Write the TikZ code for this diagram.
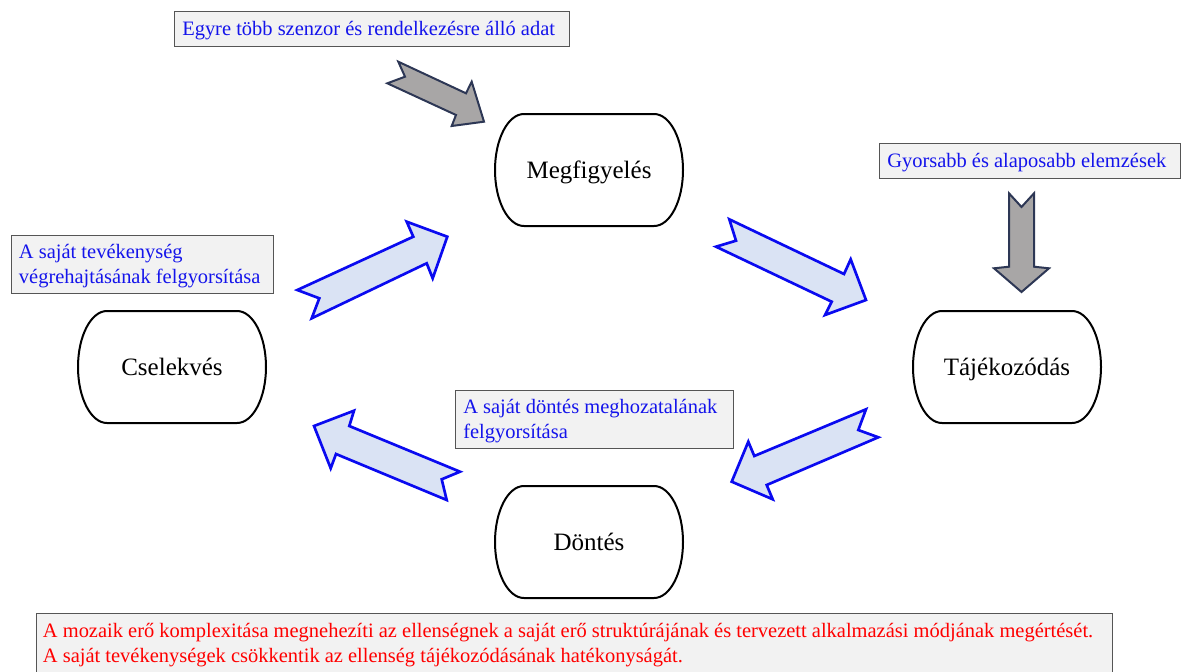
\documentclass[tikz,border=0pt]{standalone}
\usepackage{fontspec}
\setmainfont{Liberation Serif}
\definecolor{boxfill}{RGB}{242,242,242}
\definecolor{boxline}{RGB}{85,85,85}
\definecolor{notetext}{RGB}{20,20,235}
\definecolor{alerttext}{RGB}{255,0,0}
\definecolor{flowfill}{RGB}{218,227,244}
\definecolor{flowline}{RGB}{10,10,240}
\definecolor{inputfill}{RGB}{168,166,166}
\definecolor{inputline}{RGB}{45,55,85}
% stadium outline around a centre point (x, y): straight top/bottom, elliptic sides
\newcommand\stadiumat[2]{%
  (#1-65,#2-56) -- (#1+65,#2-56)
  arc[start angle=-90,end angle=90,x radius=29,y radius=56]
  -- (#1-65,#2+56)
  arc[start angle=90,end angle=270,x radius=29,y radius=56] -- cycle}
\begin{document}
\begin{tikzpicture}[x=0.75pt,y=-0.75pt,
  infobox/.style={draw=boxline,fill=boxfill,line width=1.1pt,anchor=north west,
    inner sep=0pt},
  notelabel/.style={anchor=west,inner sep=0pt,align=left,text=notetext,
    font=\fontsize{15.35}{18.8}\selectfont},
  stage/.style={font=\fontsize{18.75}{22}\selectfont,inner sep=0pt,anchor=base},
  stageline/.style={draw=black,line width=1.5pt},
  flowarrow/.style={draw=flowline,fill=flowfill,line width=2pt,line join=miter},
  inputarrow/.style={draw=inputline,fill=inputfill,line width=1.5pt,line join=miter}]
\useasboundingbox (0,0) rectangle (1181,671);

% the four stages of the loop
\draw[stageline] \stadiumat{589}{170};
\node[stage] (obs) at (589,178) {Megfigyelés};
\draw[stageline] \stadiumat{1007}{367};
\node[stage] (ori) at (1007,375) {Tájékozódás};
\draw[stageline] \stadiumat{589}{542};
\node[stage] (dec) at (589,550) {Döntés};
\draw[stageline] \stadiumat{172}{367};
\node[stage] (act) at (172,375) {Cselekvés};

% block arrows of the cycle
\draw[flowarrow] (729.3,219.3) -- (844,274) -- (850.7,259.3) -- (866,300)
  -- (825,315) -- (831.7,301.7) -- (716,246.7) -- (736,240.7) -- cycle;
\draw[flowarrow] (866,409.3) -- (858.3,430) -- (878.3,437.3) -- (766.7,485)
  -- (772.7,499.3) -- (731.7,481.7) -- (748.3,441.7) -- (754.3,456) -- cycle;
\draw[flowarrow] (460,471.7) -- (441.7,479.3) -- (446.7,500) -- (336,454)
  -- (330.7,468.3) -- (314,426) -- (354,410.7) -- (349.3,426) -- cycle;
\draw[flowarrow] (311.7,318.3) -- (319.3,298.3) -- (297.3,290) -- (413.3,236.7)
  -- (406.7,221.7) -- (447.3,236.7) -- (432.7,278.3) -- (426.7,263.3) -- cycle;

% external inputs
\draw[inputarrow] (398.3,61.7) -- (466,93.3) -- (471.7,81.7) -- (484,121.7)
  -- (451.7,126) -- (456,115) -- (387.3,83.3) -- (405,76.7) -- cycle;
\draw[inputarrow] (1009,193.3) -- (1021.5,207) -- (1034,193.3) -- (1034,266.7)
  -- (1049,268.3) -- (1021.5,292) -- (994,268.3) -- (1009,266.7) -- cycle;

% annotation boxes and their texts
\node[infobox,minimum width=296.25pt,minimum height=26.25pt] (sensors) at (174,11) {};
\node[notelabel] (sensorstext) at ([xshift=6pt,yshift=-1pt]sensors.west)
  {Egyre több szenzor és rendelkezésre álló adat};
\node[infobox,minimum width=225.75pt,minimum height=26.25pt] (analysis) at (879,143) {};
\node[notelabel] (analysistext) at ([xshift=6pt,yshift=-1pt]analysis.west)
  {Gyorsabb és alaposabb elemzések};
\node[infobox,minimum width=196.5pt,minimum height=43.5pt] (execution) at (10.7,235) {};
\node[notelabel] (executiontext) at ([xshift=6pt,yshift=-1pt]execution.west)
  {A saját tevékenység\\végrehajtásának felgyorsítása};
\node[infobox,minimum width=208.5pt,minimum height=43.5pt] (decision) at (455,390) {};
\node[notelabel] (decisiontext) at ([xshift=6pt,yshift=-1pt]decision.west)
  {A saját döntés meghozatalának\\felgyorsítása};
\node[infobox,minimum width=807pt,minimum height=45pt] (mosaic) at (36,613) {};
\node[notelabel,text=alerttext] (mosaictext) at ([xshift=5pt,yshift=-1pt]mosaic.west)
  {A mozaik erő komplexitása megnehezíti az ellenségnek a saját erő struktúrájának és tervezett alkalmazási módjának megértését.\\A saját tevékenységek csökkentik az ellenség tájékozódásának hatékonyságát.};
\end{tikzpicture}
\end{document}
